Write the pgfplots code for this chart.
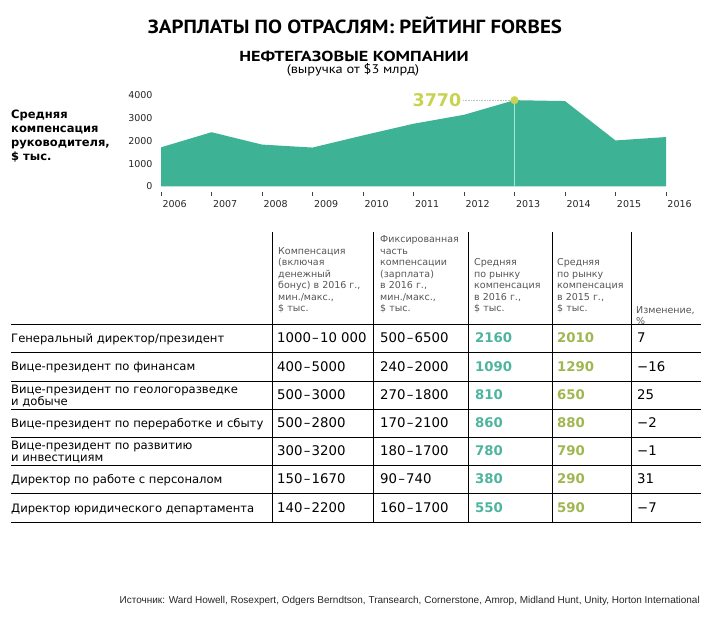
\documentclass[border=0pt]{standalone}
\usepackage{pgfplots}
\pgfplotsset{compat=1.18}
\usepackage{fontspec}
\setmainfont{DejaVu Sans}
\newfontfamily\ptsansA[FakeStretch=1.1]{PT Sans}
\newfontfamily\ptsansB[FakeStretch=1.25]{PT Sans}
\newfontfamily\ptsansC[FakeStretch=1.15]{PT Sans}
\newfontfamily\arial{Liberation Sans}

\definecolor{areaC}{RGB}{61,178,149}
\definecolor{lineC}{RGB}{165,232,212}
\definecolor{dotC}{RGB}{202,210,82}
\definecolor{tealT}{RGB}{78,180,160}
\definecolor{greenT}{RGB}{160,182,80}
\definecolor{hdrC}{RGB}{85,85,85}

% y given in pixels from the top of the picture
\newcommand{\hdr}[3]{\node[anchor=base west, inner sep=0, text=hdrC, font=\fontsize{9.5}{11}\selectfont] at (#1,{626-#2-3.3}) {#3};}
\newcommand{\cell}[3]{\node[anchor=base west, inner sep=0, font=\fontsize{11.6}{14}\selectfont] at (#1,{626-#2-4.3}) {#3};}
\newcommand{\val}[3]{\node[anchor=base west, inner sep=0, font=\fontsize{13.3}{15}\selectfont] at (#1,{626-#2-4.6}) {#3};}
\newcommand{\num}[4]{\node[anchor=base west, inner sep=0, text=#4, font=\fontsize{13.3}{15}\bfseries] at (#1,{626-#2-4.6}) {#3};}
\newcommand{\dash}{\kern1.2pt–\kern1.2pt}

\begin{document}
\begin{tikzpicture}[x=1pt,y=1pt]
\useasboundingbox (0,0) rectangle (708,626);

% titles
\node[anchor=base, inner sep=0, font=\ptsansA\fontsize{19}{22}\bfseries] at (355,592.7) {ЗАРПЛАТЫ ПО ОТРАСЛЯМ: РЕЙТИНГ FORBES};
\node[anchor=base, inner sep=0, font=\ptsansB\fontsize{14.5}{17}\bfseries] at (354,564.3) {НЕФТЕГАЗОВЫЕ КОМПАНИИ};
\node[anchor=base, inner sep=0, font=\ptsansC\fontsize{12.5}{15}\selectfont] at (353,552.7) {(выручка от \$3 млрд)};

% left label of the chart
\node[anchor=base west, inner sep=0, font=\fontsize{11.5}{14}\bfseries] at (11,507.5) {Средняя};
\node[anchor=base west, inner sep=0, font=\fontsize{11.5}{14}\bfseries] at (11,493.5) {компенсация};
\node[anchor=base west, inner sep=0, font=\fontsize{11.5}{14}\bfseries] at (11,479.5) {руководителя,};
\node[anchor=base west, inner sep=0, font=\fontsize{11.5}{14}\bfseries] at (11,465.5) {\$ тыс.};

\begin{axis}[
  at={(161pt,439.5pt)}, anchor=south west,
  scale only axis, width=505pt, height=91.6pt,
  xmin=2006, xmax=2016, ymin=0, ymax=4000,
  axis line style={draw=none},
  xtick={2006,2007,...,2016}, ytick={0,1000,...,4000},
  /pgf/number format/1000 sep={},
  /pgf/number format/assume math mode=true,
  xtick pos=bottom, ytick pos=left,
  tick align=outside, major tick length=5pt,
  tick style={draw=none},
  tick label style={font=\fontsize{9.5}{11}\selectfont, text=black!85},
  xticklabel style={anchor=north west, xshift=-2pt, yshift=-5pt},
  clip=false,
]
\addplot[fill=areaC, draw=none] coordinates {
  (2006,1710) (2007,2370) (2008,1830) (2009,1700) (2010,2230) (2011,2740)
  (2012,3130) (2013,3770) (2014,3730) (2015,2010) (2016,2160)} \closedcycle;
\addplot[draw=lineC, line width=1.8pt] coordinates {(2013,0) (2013,3770)};
\addplot[draw=black!25, densely dotted, line width=0.6pt] coordinates {(2011.98,3770) (2013,3770)};
\addplot[only marks, mark=*, mark size=3.8pt, mark options={fill=dotC, draw=dotC}] coordinates {(2013,3770)};
\node[anchor=east, inner sep=0, text=dotC, font=\fontsize{17.5}{20}\bfseries] at (axis cs:2011.95,3770) {3770};
% year tick marks, set a little below the area
\pgfplotsinvokeforeach{2006,2007,...,2016}{
  \draw[black!75, line width=0.9pt] ([yshift=-6pt]axis cs:#1,0) -- ([yshift=-10pt]axis cs:#1,0);
}
\end{axis}

% table grid
\foreach \yy in {324,352.3,381,409.3,437.3,465.3,493.3,522}
  \draw[line width=0.9pt] (11,{626-\yy}) -- (701,{626-\yy});
\foreach \xx in {272,373,468,552,631}
  \draw[line width=0.9pt] (\xx,394) -- (\xx,104);

% table header
\hdr{278}{250.8}{Компенсация}
\hdr{278}{262.3}{(включая}
\hdr{278}{273.8}{денежный}
\hdr{278}{285.3}{бонус) в 2016 г.,}
\hdr{278}{296.8}{мин./макс.,}
\hdr{278}{308.3}{\$ тыс.}

\hdr{380}{239.3}{Фиксированная}
\hdr{380}{250.8}{часть}
\hdr{380}{262.3}{компенсации}
\hdr{380}{273.8}{(зарплата)}
\hdr{380}{285.3}{в 2016 г.,}
\hdr{380}{296.8}{мин./макс.,}
\hdr{380}{308.3}{\$ тыс.}

\hdr{474}{262.3}{Средняя}
\hdr{474}{273.8}{по рынку}
\hdr{474}{285.3}{компенсация}
\hdr{474}{296.8}{в 2016 г.,}
\hdr{474}{308.3}{\$ тыс.}

\hdr{557}{262.3}{Средняя}
\hdr{557}{273.8}{по рынку}
\hdr{557}{285.3}{компенсация}
\hdr{557}{296.8}{в 2015 г.,}
\hdr{557}{308.3}{\$ тыс.}

\hdr{636}{310}{Изменение,}
\hdr{636}{321.2}{\%}

% table body
\cell{11}{338.2}{Генеральный директор/президент}
\cell{11}{366.7}{Вице-президент по финансам}
\cell{11}{389.3}{Вице-президент по геологоразведке}
\cell{11}{401}{и добыче}
\cell{11}{423.3}{Вице-президент по переработке и сбыту}
\cell{11}{445.5}{Вице-президент по развитию}
\cell{11}{457.2}{и инвестициям}
\cell{11}{479.3}{Директор по работе с персоналом}
\cell{11}{507.7}{Директор юридического департамента}

\val{277}{338.2}{1000\dash10 000}
\val{277}{366.7}{400\dash5000}
\val{277}{395.2}{500\dash3000}
\val{277}{423.3}{500\dash2800}
\val{277}{451.3}{300\dash3200}
\val{277}{479.3}{150\dash1670}
\val{277}{507.7}{140\dash2200}

\val{380}{338.2}{500\dash6500}
\val{380}{366.7}{240\dash2000}
\val{380}{395.2}{270\dash1800}
\val{380}{423.3}{170\dash2100}
\val{380}{451.3}{180\dash1700}
\val{380}{479.3}{90\dash740}
\val{380}{507.7}{160\dash1700}

\num{475}{338.2}{2160}{tealT}
\num{475}{366.7}{1090}{tealT}
\num{475}{395.2}{810}{tealT}
\num{475}{423.3}{860}{tealT}
\num{475}{451.3}{780}{tealT}
\num{475}{479.3}{380}{tealT}
\num{475}{507.7}{550}{tealT}

\num{557}{338.2}{2010}{greenT}
\num{557}{366.7}{1290}{greenT}
\num{557}{395.2}{650}{greenT}
\num{557}{423.3}{880}{greenT}
\num{557}{451.3}{790}{greenT}
\num{557}{479.3}{290}{greenT}
\num{557}{507.7}{590}{greenT}

\val{637}{338.2}{7}
\val{637}{366.7}{−16}
\val{637}{395.2}{25}
\val{637}{423.3}{−2}
\val{637}{451.3}{−1}
\val{637}{479.3}{31}
\val{637}{507.7}{−7}

% source
\node[anchor=base east, inner sep=0, font=\arial\fontsize{10}{12}\selectfont, text=black!85] at (700,22.5)
  {Источник: Ward Howell, Rosexpert, Odgers Berndtson, Transearch, Cornerstone, Amrop, Midland Hunt, Unity, Horton International};
\end{tikzpicture}
\end{document}
